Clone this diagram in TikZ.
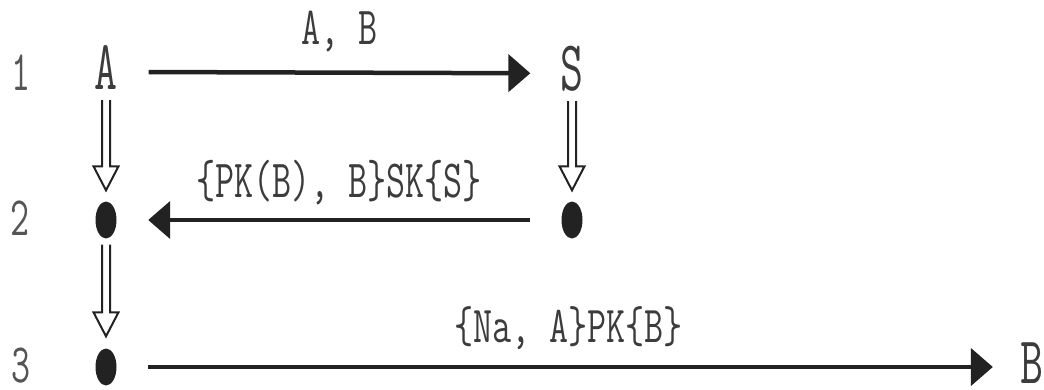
\documentclass[tikz,border=0pt]{standalone}
\usepackage{fontspec}
\usetikzlibrary{arrows.meta,shapes.geometric,calc}
\definecolor{ink}{HTML}{222222}
\definecolor{txt}{HTML}{3C3C3C}
\definecolor{numc}{HTML}{555555}
\newcommand\vtxt[2]{\scalebox{1}[#1]{#2}}
\newcommand\dblarr[4]{\draw[dbl] let \p1=($(#1.south)+(0,#3)$), \p2=($(#2.north)+(0,-#4)$) in
  (\x1-4pt,\y1) -- (\x1-4pt,\y2+24pt) -- (\x1-12.5pt,\y2+24pt) -- (\x1,\y2) -- (\x1+12.5pt,\y2+24pt) -- (\x1+4pt,\y2+24pt) -- (\x1+4pt,\y1);}
\tikzset{
  lbl/.style={inner sep=0pt, anchor=base, text=txt, font=\fontsize{37}{40}\selectfont\ttfamily},
  num/.style={inner sep=0pt, anchor=base, text=numc, font=\fontsize{37}{40}\selectfont\ttfamily},
  agent/.style={inner sep=0pt, anchor=base, text=txt, font=\fontsize{44.5}{48}\selectfont\ttfamily},
  dot/.style={ellipse, fill=ink, inner sep=0pt, minimum width=21pt, minimum height=37pt},
  msg/.style={draw=ink, line width=4.5pt, -{Triangle[length=22pt,width=37pt]}},
  dbl/.style={draw=ink, line width=2pt, line join=miter},
}
\begin{document}
\begin{tikzpicture}[x=1pt,y=-1pt]
\useasboundingbox (0,0) rectangle (1044,389);
\fill[white] (0,0) rectangle (1044,389);
% row numbers
\node[num] (n1) at (21,90) {\vtxt{1.55}{1}};
\node[num] (n2) at (20,235) {\vtxt{1.5}{2}};
\node[num] (n3) at (21,382) {\vtxt{1.5}{3}};
% principals
\node[agent] (A) at (106,89) {\vtxt{1.58}{A}};
\node[agent] (S) at (572,90) {\vtxt{1.6}{S}};
\node[agent] (B) at (1032,383) {\vtxt{1.5}{B}};
% dots
\node[dot] (d1) at (106,220) {};
\node[dot] (d2) at (572,220) {};
\node[dot] (d3) at (106,367) {};
% messages
\draw[msg] ([shift={(31,5)}]A.east) -- ([shift={(-30,5)}]S.west)
  node[midway, lbl, yshift=28pt] {\vtxt{1.45}{A, B}};
\draw[msg, shorten <=31.5pt, shorten >=31.5pt] (d2) -- (d1)
  node[midway, lbl, yshift=23pt] {\vtxt{1.45}{\{PK(B), B\}SK\{S\}}};
\draw[msg, shorten <=31.5pt, shorten >=27.5pt] (d3) -- (d3 -| B.west)
  node[midway, lbl, yshift=25pt] {\vtxt{1.4}{\{Na, A\}PK\{B\}}};
% state transitions
\dblarr{A}{d1}{11}{11}
\dblarr{S}{d2}{10}{11}
\dblarr{d1}{d3}{6}{12}
\end{tikzpicture}
\end{document}
